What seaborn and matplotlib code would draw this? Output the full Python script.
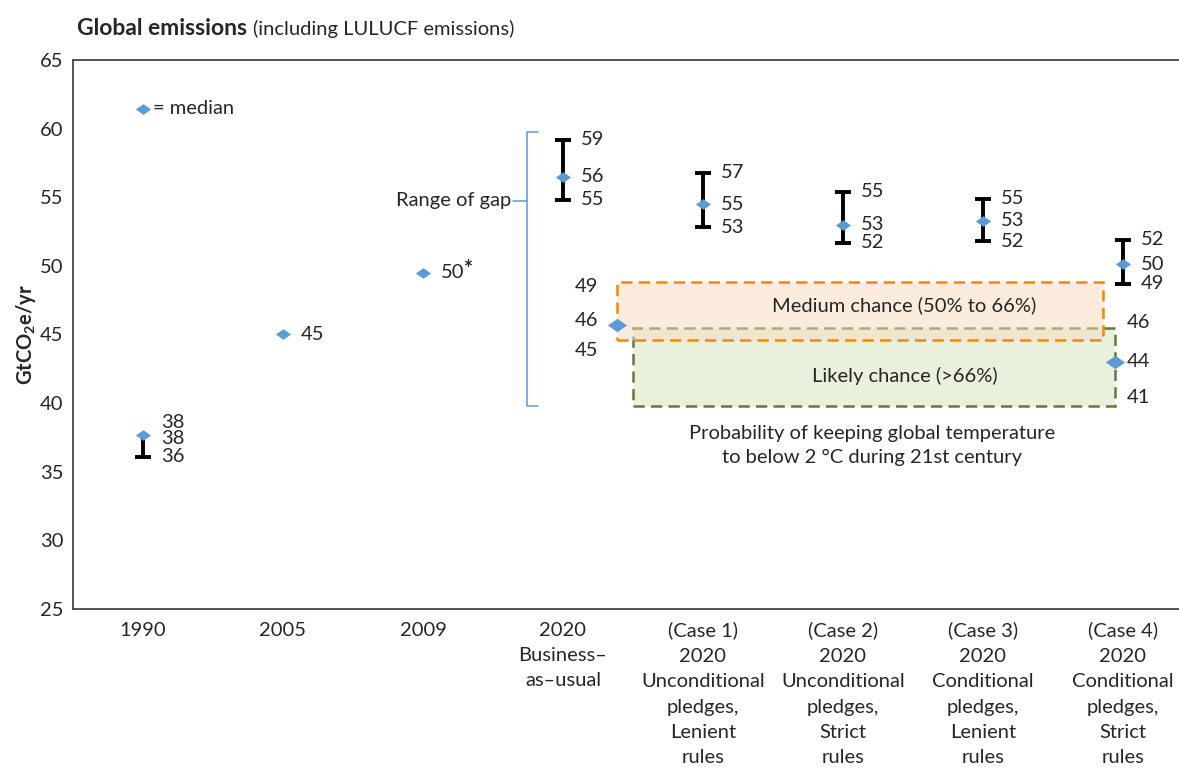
import numpy as np
import pandas as pd
import matplotlib.pyplot as plt
import matplotlib.patches as mpatches
import seaborn as sns

# Data
categories = ["1990", "2005", "2009", "2020\nBusiness\u2013\nas\u2013usual",
              "(Case 1)\n2020\nUnconditional\npledges,\nLenient\nrules",
              "(Case 2)\n2020\nUnconditional\npledges,\nStrict\nrules",
              "(Case 3)\n2020\nConditional\npledges,\nLenient\nrules",
              "(Case 4)\n2020\nConditional\npledges,\nStrict\nrules"]
medians = [37.7, 45.0, 49.5, 56.5, 54.5, 53.0, 53.3, 50.1]
range_low = [36.1, np.nan, np.nan, 54.8, 52.8, 51.7, 51.8, 48.7]
range_high = [37.7, np.nan, np.nan, 59.2, 56.8, 55.4, 54.9, 51.9]
label_top = ["38", None, None, "59", "57", "55", "55", "52"]
label_mid = ["38", "45", "50", "56", "55", "53", "53", "50"]
label_low = ["36", None, None, "55", "53", "52", "52", "49"]

# 2 degC pathways (medium / likely chance)
medium_median, medium_low, medium_high = 45.7, 44.6, 48.8
likely_median, likely_low, likely_high = 43.0, 39.8, 45.5
medium_labels = ["49", "46", "45"]
likely_labels = ["46", "44", "41"]

sns.set_style("white")
plt.rcParams['font.family'] = ['Lato', 'DejaVu Sans']
plt.rcParams['mathtext.fontset'] = 'custom'
plt.rcParams['mathtext.rm'] = 'Lato'
plt.rcParams['mathtext.bf'] = 'Lato:bold'

txt = "#262626"
blue = "#5B9BD5"
diamond = [(-1, 0), (0, 0.7), (1, 0), (0, -0.7), (-1, 0)]
fs = 14.5

fig = plt.figure(figsize=(11.79, 7.71), dpi=100)
ax = fig.add_axes([0.0619, 0.2101, 0.9381, 0.7121])

x = np.arange(len(categories))
df = pd.DataFrame({"x": x, "median": medians})

# boxes for 2 degC ranges
green = mpatches.Rectangle((3.5, likely_low), 6.943 - 3.5, likely_high - likely_low,
                           facecolor="#E9F0DC", edgecolor="#66783A", lw=1.8,
                           linestyle=(0, (4.5, 2.5)), zorder=1)
ax.add_patch(green)
orange = mpatches.Rectangle((3.386, medium_low), 6.857 - 3.386, medium_high - medium_low,
                            facecolor=(0.973, 0.86, 0.75, 0.5), edgecolor="#F08A00", lw=1.8,
                            linestyle=(0, (4.5, 2.5)), zorder=2)
ax.add_patch(orange)
ax.text(5.44, 47.1, "Medium chance (50% to 66%)", ha="center", va="center", fontsize=fs, color=txt)
ax.text(5.44, 42.0, "Likely chance (>66%)", ha="center", va="center", fontsize=fs, color=txt)
ax.text(5.21, 36.9, "Probability of keeping global temperature\nto below 2 \u00b0C during 21st century",
        ha="center", va="center", fontsize=fs, color=txt, linespacing=1.45)

# range bars
cap = 0.057
for i in x:
    if np.isnan(range_low[i]):
        continue
    ax.vlines(i, range_low[i], range_high[i], color="black", lw=2.8, zorder=3)
    ax.hlines(range_low[i], i - cap, i + cap, color="black", lw=2.8, zorder=3)
    if range_high[i] > medians[i] + 0.1:
        ax.hlines(range_high[i], i - cap, i + cap, color="black", lw=2.8, zorder=3)

# medians
sns.scatterplot(data=df, x="x", y="median", marker=diamond, s=120, color=blue,
                edgecolor=blue, linewidth=0, ax=ax, zorder=4, legend=False)
ax.scatter([3.386, 6.943], [medium_median, likely_median], marker=diamond, s=190,
           color=blue, linewidths=0, zorder=4)

# value labels
off = 0.13
for i in x:
    if label_top[i] is not None:
        yt = range_high[i] if i > 0 else 38.6
        ym = medians[i] if i > 0 else 37.45
        ax.text(i + off, yt, label_top[i], va="center", ha="left", fontsize=fs, color=txt)
        ax.text(i + off, ym, label_mid[i], va="center", ha="left", fontsize=fs, color=txt)
        ax.text(i + off, range_low[i], label_low[i], va="center", ha="left", fontsize=fs, color=txt)
ax.text(1 + off, medians[1], label_mid[1], va="center", ha="left", fontsize=fs, color=txt)
ax.text(2 + off, medians[2], label_mid[2], va="center", ha="left", fontsize=fs, color=txt)
ax.text(2.295, 49.75, "*", va="center", ha="left", fontsize=fs + 1, fontweight="bold", color=txt)

for yy, lab in zip([48.5, 46.0, 43.8], medium_labels):
    ax.text(3.25, yy, lab, va="center", ha="right", fontsize=fs, color=txt)
for yy, lab in zip([45.85, 43.0, 40.4], likely_labels):
    ax.text(7.03, yy, lab, va="center", ha="left", fontsize=fs, color=txt)

# range of gap bracket
bx = 2.743
ax.plot([bx + 0.08, bx, bx, bx + 0.08], [59.75, 59.75, 39.8, 39.8], color=blue, lw=1.1, zorder=2)
ax.plot([bx, bx - 0.1], [54.75, 54.75], color=blue, lw=1.1, zorder=2)
ax.text(bx - 0.11, 54.75, "Range of gap", ha="right", va="center", fontsize=fs, color=txt)

# legend
ax.scatter([0], [61.45], marker=diamond, s=120, color=blue, linewidths=0, zorder=4)
ax.text(0.07, 61.45, "= median", ha="left", va="center", fontsize=fs, color=txt)

ax.set_xlim(-0.5, 7.4)
ax.set_ylim(25, 65)
ax.set_yticks(range(25, 66, 5))
ax.set_xticks(x)
ax.set_xticklabels(categories, fontsize=fs, color=txt, linespacing=1.6, va="top")
ax.tick_params(axis="y", direction="in", length=9.5, width=1.2, color="#555555", labelsize=fs,
               labelcolor=txt, pad=7)
ax.tick_params(axis="x", direction="in", length=9.5, width=1.2, color="#555555", pad=9)
for s in ["left", "bottom", "top"]:
    ax.spines[s].set_color("#444444")
    ax.spines[s].set_linewidth(1.3)
ax.spines["right"].set_visible(False)
ax.set_xlabel("")
ax.set_ylabel("GtCO$_\\mathregular{2}$e/yr", fontsize=fs, fontweight="bold", color=txt, labelpad=1)

# title: bold part followed by normal part
t1 = fig.text(0.0653, 0.963, "Global emissions", fontsize=16.5, fontweight="bold", color=txt, va="center")
fig.canvas.draw()
bb = t1.get_window_extent(renderer=fig.canvas.get_renderer())
fig.text((bb.x1 + 6) / fig.bbox.width, 0.963, "(including LULUCF emissions)", fontsize=14.5,
         color=txt, va="center")

fig.savefig("out.png", dpi=100)
